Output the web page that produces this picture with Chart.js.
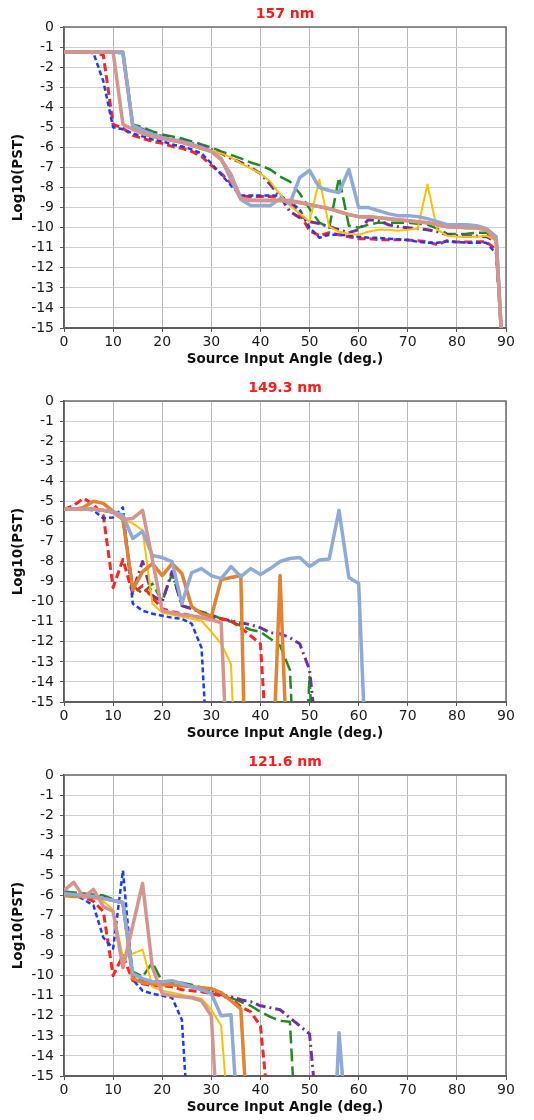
<!DOCTYPE html>
<html>
<head>
<meta charset="utf-8">
<script src="https://cdn.jsdelivr.net/npm/chart.js@4"></script>
<style>
  html, body { margin: 0; padding: 0; background: #ffffff; }
  canvas { display: block; }
</style>
</head>
<body>
<canvas id="c157" width="534" height="374"></canvas>
<canvas id="c149" width="534" height="374"></canvas>
<canvas id="c121" width="534" height="374"></canvas>
<script>
// ---------- Tick labels / axis ranges ----------
const xTickStep = 10;
const yTickStep = 1;
const xMin = 0, xMax = 90, yMin = -15, yMax = 0;
const panelTitles = ['157 nm', '149.3 nm', '121.6 nm'];
const xAxisTitle = 'Source Input Angle (deg.)';
const yAxisTitle = 'Log10(PST)';

// ---------- Panel 1: 157 nm ----------
const angles157 = [0,2,4,6,8,10,12,14,16,18,20,22,24,26,28,30,32,34,36,38,40,42,44,46,48,50,52,54,56,58,60,62,64,66,68,70,72,74,76,78,80,82,84,86,88,89];
const blue157 = [-1.25,-1.25,-1.25,-1.3,-2.7,-5.0,-5.1,-5.3,-5.45,-5.6,-5.7,-5.85,-5.95,-6.1,-6.3,-6.8,-7.35,-7.9,-8.4,-8.4,-8.4,-8.4,-8.4,-8.7,-9.1,-10.0,-10.5,-10.35,-10.35,-10.4,-10.45,-10.5,-10.5,-10.55,-10.58,-10.62,-10.7,-10.75,-10.75,-10.68,-10.72,-10.75,-10.75,-10.75,-11.3,-15];
const red157 = [-1.25,-1.25,-1.25,-1.25,-1.4,-4.85,-5.05,-5.4,-5.55,-5.7,-5.8,-5.95,-6.05,-6.2,-6.45,-6.9,-7.3,-7.8,-8.45,-8.45,-8.45,-8.45,-8.5,-8.75,-9.3,-10.15,-10.4,-10.25,-10.35,-10.45,-10.55,-10.55,-10.6,-10.6,-10.6,-10.62,-10.65,-10.7,-10.85,-10.65,-10.72,-10.72,-10.7,-10.7,-11.1,-15];
const green157 = [-1.25,-1.25,-1.25,-1.25,-1.25,-1.25,-1.3,-4.85,-5.0,-5.2,-5.35,-5.45,-5.55,-5.7,-5.85,-6.0,-6.2,-6.37,-6.55,-6.75,-6.9,-7.1,-7.45,-7.7,-8.3,-9.05,-9.75,-10.0,-7.5,-9.9,-10.0,-9.85,-9.75,-9.75,-9.75,-9.75,-9.8,-9.85,-10.05,-10.3,-10.32,-10.3,-10.25,-10.25,-10.6,-15];
const purple157 = [-1.25,-1.25,-1.25,-1.25,-1.25,-1.25,-1.3,-4.9,-5.1,-5.3,-5.45,-5.55,-5.65,-5.8,-5.95,-6.1,-6.3,-6.55,-6.75,-7.0,-7.3,-7.85,-8.45,-9.2,-9.5,-9.7,-9.8,-9.95,-10.1,-10.25,-10.1,-9.6,-9.65,-9.85,-9.95,-10.0,-10.05,-10.1,-10.2,-10.35,-10.4,-10.42,-10.42,-10.45,-10.7,-15];
const yellow157 = [-1.25,-1.25,-1.25,-1.25,-1.25,-1.25,-1.3,-4.9,-5.15,-5.35,-5.5,-5.6,-5.7,-5.85,-6.0,-6.15,-6.3,-6.5,-6.8,-7.05,-7.3,-7.7,-8.35,-8.9,-9.3,-9.7,-7.6,-9.95,-10.2,-10.3,-10.35,-10.2,-10.1,-10.1,-10.15,-10.1,-10.05,-7.85,-10.1,-10.4,-10.45,-10.45,-10.45,-10.4,-10.65,-15];
const orange157 = [-1.25,-1.25,-1.25,-1.25,-1.25,-1.25,-1.25,-4.95,-5.3,-5.45,-5.55,-5.65,-5.75,-5.9,-6.05,-6.2,-6.6,-7.4,-8.55,-8.65,-8.65,-8.65,-8.65,-8.65,-8.75,-8.85,-8.95,-9.05,-9.2,-9.35,-9.45,-9.45,-9.5,-9.55,-9.6,-9.65,-9.7,-9.75,-9.85,-9.95,-9.97,-10.0,-10.0,-10.1,-10.6,-15];
const lightBlue157 = [-1.25,-1.25,-1.25,-1.25,-1.25,-1.25,-1.3,-4.9,-5.15,-5.35,-5.5,-5.6,-5.7,-5.85,-6.0,-6.2,-6.55,-7.6,-8.6,-8.9,-8.9,-8.9,-8.55,-8.8,-7.5,-7.15,-8.0,-8.15,-8.25,-7.1,-9.0,-9.0,-9.15,-9.3,-9.4,-9.4,-9.45,-9.55,-9.7,-9.85,-9.85,-9.85,-9.9,-10.05,-10.45,-15];
const pink157 = [-1.25,-1.25,-1.25,-1.25,-1.25,-1.25,-4.85,-5.1,-5.3,-5.45,-5.55,-5.65,-5.75,-5.9,-6.05,-6.2,-6.6,-7.35,-8.55,-8.62,-8.65,-8.65,-8.65,-8.68,-8.75,-8.85,-8.95,-9.05,-9.2,-9.35,-9.45,-9.45,-9.5,-9.55,-9.6,-9.65,-9.7,-9.75,-9.85,-9.95,-9.97,-10.0,-10.0,-10.1,-10.6,-15];

// ---------- Panel 2: 149.3 nm ----------
const angles149 = [0,2,4,6,8,10,12,14,16,18,20,22,24,26,28,30,32,34,36,38,40,42,44,46,48,50,52,54,56,58,60,62];
const blue149 = [-5.4,-5.35,-5.4,-5.45,-5.85,-5.8,-5.3,-10.1,-10.45,-10.6,-10.7,-10.8,-10.85,-11.1,-12.3,-21,null,null,null,null,null,null,null,null,null,null,null,null,null,null,null,null];
const red149 = [-5.4,-5.2,-4.85,-5.15,-5.7,-9.3,-7.9,-9.6,-9.2,-9.8,-10.35,-10.5,-10.6,-10.7,-10.8,-10.85,-10.85,-10.95,-11.3,-11.7,-12.1,-20,null,null,null,null,null,null,null,null,null,null];
const green149 = [-5.4,-5.4,-5.4,-5.4,-5.45,-5.55,-5.9,-9.2,-9.6,-9.1,-10.0,-8.6,-10.2,-10.35,-10.5,-10.65,-10.85,-11.0,-11.2,-11.4,-11.5,-11.85,-12.2,-13.4,-24,-13.7,-24,null,null,null,null,null];
const purple149 = [-5.4,-5.4,-5.4,-5.4,-5.45,-5.55,-5.9,-9.5,-8.0,-9.7,-10.0,-8.5,-10.2,-10.35,-10.55,-10.7,-10.85,-10.95,-11.05,-11.15,-11.3,-11.55,-11.6,-11.8,-12.1,-13.4,-18,null,null,null,null,null];
const yellow149 = [-5.4,-5.35,-5.35,-5.4,-5.45,-5.5,-5.9,-6.1,-6.45,-10.1,-10.55,-10.65,-10.75,-10.85,-10.95,-11.5,-12.1,-13.1,-25,null,null,null,null,null,null,null,null,null,null,null,null,null];
const orange149 = [-5.4,-5.4,-5.3,-5.0,-5.1,-5.5,-5.9,-9.4,-8.5,-8.1,-8.7,-8.1,-8.6,-10.25,-10.6,-10.75,-8.9,-8.8,-8.7,-30,null,-21.5,-8.7,-21.5,null,null,null,null,null,null,null,null];
const lightBlue149 = [-5.4,-5.4,-5.4,-5.4,-5.45,-5.5,-5.7,-6.85,-6.5,-7.7,-7.8,-8.0,-10.1,-8.55,-8.35,-8.7,-8.85,-8.25,-8.75,-8.35,-8.65,-8.35,-8.0,-7.85,-7.8,-8.25,-7.92,-7.87,-5.45,-8.8,-9.1,-20.9];
const pink149 = [-5.4,-5.4,-5.4,-5.4,-5.45,-5.55,-5.9,-5.85,-5.45,-7.9,-10.45,-10.55,-10.65,-10.7,-10.8,-10.9,-11.05,-22.3,null,null,null,null,null,null,null,null,null,null,null,null,null,null];

// ---------- Panel 3: 121.6 nm ----------
const angles121 = [0,2,4,6,8,10,12,14,16,18,20,22,24,26,28,30,32,34,36,38,40,42,44,46,48,50,52,54,56,58,60,62];
const blue121 = [-5.85,-5.95,-6.2,-6.5,-8.1,-8.65,-4.75,-10.2,-10.75,-10.9,-11.0,-11.1,-12.2,-20.2,null,null,null,null,null,null,null,null,null,null,null,null,null,null,null,null,null,null];
const red121 = [-6.0,-6.0,-6.05,-6.3,-6.8,-10.0,-9.0,-10.25,-10.4,-10.5,-10.5,-10.55,-10.7,-10.75,-10.8,-10.9,-11.0,-11.15,-11.55,-11.8,-12.5,-17.5,null,null,null,null,null,null,null,null,null,null];
const green121 = [-5.8,-5.85,-5.9,-5.95,-6.0,-6.2,-6.35,-9.8,-10.05,-9.35,-10.3,-10.3,-10.35,-10.45,-10.6,-10.75,-10.9,-11.1,-11.3,-11.5,-11.8,-12.05,-12.25,-12.3,-21.3,null,null,null,null,null,null,null];
const purple121 = [-5.9,-5.95,-6.0,-6.05,-6.1,-6.25,-6.4,-10.0,-10.2,-10.3,-10.4,-10.4,-10.45,-10.55,-10.65,-10.8,-10.95,-11.05,-11.2,-11.3,-11.5,-11.6,-11.7,-12.1,-12.5,-12.9,-18.2,null,null,null,null,null];
const yellow121 = [-6.0,-6.0,-6.05,-6.05,-6.3,-6.7,-9.1,-8.9,-8.7,-10.55,-10.75,-10.85,-10.95,-11.05,-11.15,-11.7,-12.5,-18.75,null,null,null,null,null,null,null,null,null,null,null,null,null,null];
const orange121 = [-6.0,-6.05,-6.05,-6.1,-6.15,-6.25,-6.35,-10.15,-10.35,-10.4,-10.45,-10.45,-10.5,-10.55,-10.6,-10.65,-10.85,-11.25,-11.65,-20,null,null,null,null,null,null,null,null,null,null,null,null];
const lightBlue121 = [-5.9,-5.95,-6.0,-6.05,-6.15,-6.25,-6.35,-9.9,-10.15,-10.3,-10.3,-10.25,-10.4,-10.55,-10.7,-10.9,-12.0,-11.95,-19.6,null,null,null,null,null,null,null,null,-23.6,-12.85,-19,null,null];
const pink121 = [-5.75,-5.35,-6.1,-5.7,-6.55,-6.8,-9.6,-7.5,-5.4,-9.6,-10.9,-11.0,-11.05,-11.1,-11.25,-12.0,-20.6,null,null,null,null,null,null,null,null,null,null,null,null,null,null,null];

// ---------- Styles (drawing order: first = on top) ----------
const seriesStyles = [
  { key: 'pink',      color: '#d4958f', width: 3.5, dash: [] },
  { key: 'lightBlue', color: '#8eaad8', width: 3.5, dash: [] },
  { key: 'orange',    color: '#e3822f', width: 3.5, dash: [] },
  { key: 'yellow',    color: '#ffc000', width: 2,   dash: [] },
  { key: 'blue',      color: '#1a3cff', width: 2.5, dash: [5, 3] },
  { key: 'red',       color: '#ff2323', width: 3,   dash: [8, 4] },
  { key: 'purple',    color: '#7030a0', width: 3,   dash: [10, 4, 2, 4] },
  { key: 'green',     color: '#1e8c1e', width: 2.5, dash: [13, 5] }
];

const panels = [
  { id: 'c157', title: panelTitles[0], angles: angles157,
    series: { blue: blue157, red: red157, green: green157, purple: purple157, yellow: yellow157, orange: orange157, lightBlue: lightBlue157, pink: pink157 } },
  { id: 'c149', title: panelTitles[1], angles: angles149,
    series: { blue: blue149, red: red149, green: green149, purple: purple149, yellow: yellow149, orange: orange149, lightBlue: lightBlue149, pink: pink149 } },
  { id: 'c121', title: panelTitles[2], angles: angles121,
    series: { blue: blue121, red: red121, green: green121, purple: purple121, yellow: yellow121, orange: orange121, lightBlue: lightBlue121, pink: pink121 } }
];

Chart.defaults.font.family = '"DejaVu Sans", "Liberation Sans", sans-serif';
Chart.defaults.color = '#1a1a1a';

const framePlugin = {
  id: 'frame',
  beforeDatasetsDraw(chart) {
    const { ctx, chartArea: a } = chart;
    ctx.save();
    ctx.strokeStyle = '#6e6e6e';
    ctx.lineWidth = 1.5;
    ctx.strokeRect(a.left, a.top, a.right - a.left, a.bottom - a.top);
    ctx.restore();
  },
  afterDraw(chart, args, opts) {
    const { ctx, chartArea: a } = chart;
    ctx.save();
    ctx.fillStyle = '#ff1a1a';
    ctx.font = 'bold 14px "DejaVu Sans", sans-serif';
    ctx.textAlign = 'center';
    ctx.textBaseline = 'middle';
    ctx.fillText(opts.text, (a.left + a.right) / 2, 14);
    ctx.restore();
  }
};

panels.forEach(p => {
  const datasets = seriesStyles.map(s => ({
    label: s.key,
    data: p.angles.map((a, i) => ({ x: a, y: p.series[s.key][i] })),
    borderColor: s.color,
    backgroundColor: s.color,
    borderWidth: s.width,
    borderDash: s.dash,
    borderCapStyle: 'butt',
    borderJoinStyle: 'round',
    pointRadius: 0,
    tension: 0,
    spanGaps: false,
    fill: false,
    clip: 0
  }));
  new Chart(document.getElementById(p.id), {
    type: 'line',
    data: { datasets },
    options: {
      responsive: false,
      animation: false,
      events: [],
      layout: { padding: { top: 27, right: 28, bottom: 0, left: 0 } },
      plugins: {
        legend: { display: false },
        tooltip: { enabled: false },
        title: { display: false },
        frame: { text: p.title }
      },
      scales: {
        x: {
          type: 'linear', min: xMin, max: xMax,
          afterFit: s => { s.height = 46; },
          ticks: { stepSize: xTickStep, padding: 2, font: { size: 14 }, color: '#1a1a1a', maxRotation: 0 },
          grid: { color: '#b8b8b8', lineWidth: 1, tickLength: 4, tickColor: '#555' },
          border: { color: '#333', width: 2 },
          title: { display: true, text: xAxisTitle, font: { size: 13.5, weight: 'bold' }, color: '#111', padding: { top: 0, bottom: 6 } }
        },
        y: {
          type: 'linear', min: yMin, max: yMax,
          afterFit: s => { s.width = 64; },
          ticks: { stepSize: yTickStep, padding: 6, font: { size: 14 }, color: '#1a1a1a' },
          grid: { color: '#d0d0d0', lineWidth: 1, tickLength: 4, tickColor: '#555' },
          border: { color: '#333', width: 1.5 },
          title: { display: true, text: yAxisTitle, font: { size: 13.5, weight: 'bold' }, color: '#111', padding: { top: 10, bottom: 0 } }
        }
      }
    },
    plugins: [framePlugin]
  });
});
</script>
</body>
</html>
